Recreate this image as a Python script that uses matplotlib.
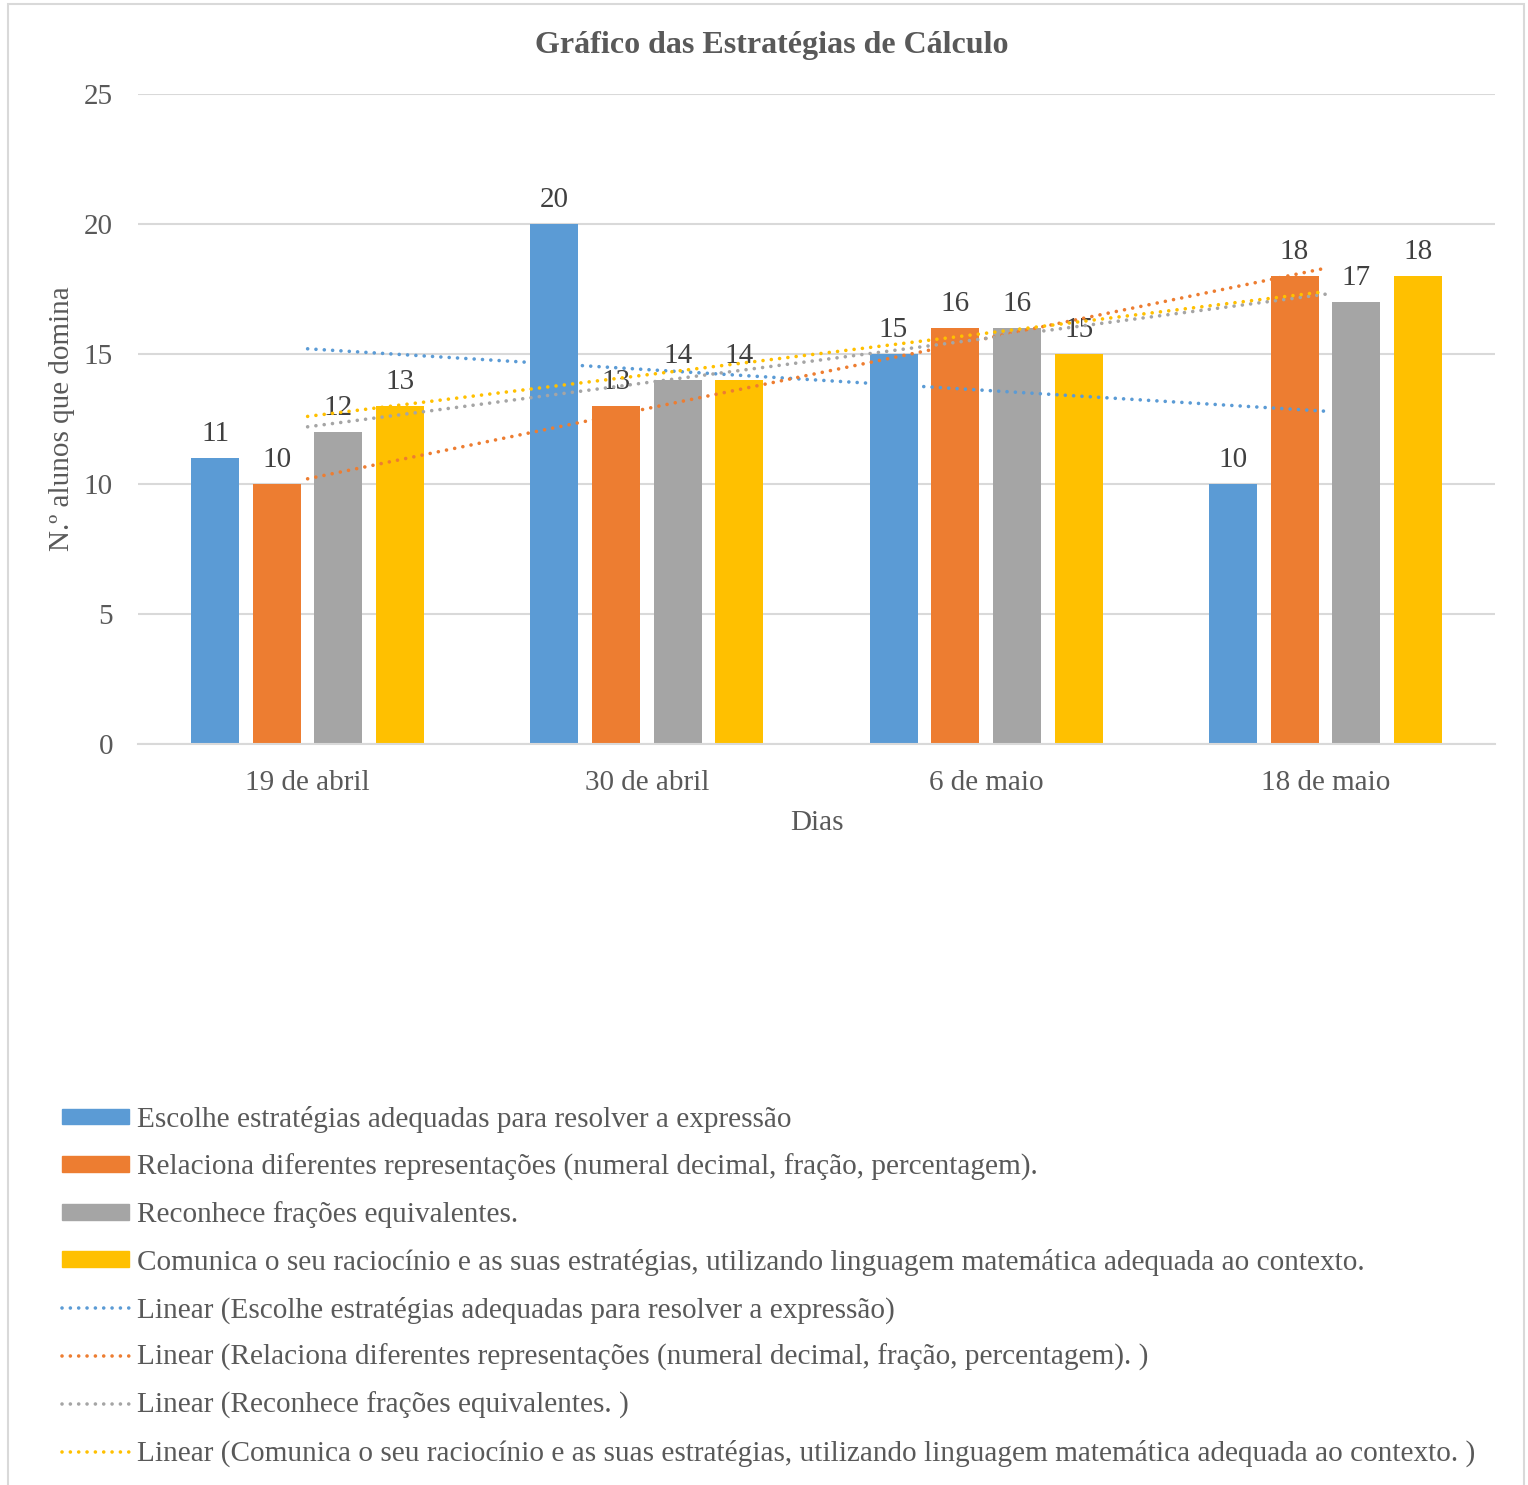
import numpy as np
import matplotlib
matplotlib.use("Agg")
import matplotlib.pyplot as plt
from matplotlib.patches import Rectangle
from matplotlib.lines import Line2D

plt.rcParams['font.family'] = ['Liberation Serif', 'DejaVu Serif']

categories = ["19 de abril", "30 de abril", "6 de maio", "18 de maio"]
series_names = [
    "Escolhe estratégias adequadas para resolver a expressão",
    "Relaciona diferentes representações (numeral decimal, fração, percentagem).",
    "Reconhece frações equivalentes.",
    "Comunica o seu raciocínio e as suas estratégias, utilizando linguagem matemática adequada ao contexto.",
]
trend_names = [
    "Linear (Escolhe estratégias adequadas para resolver a expressão)",
    "Linear (Relaciona diferentes representações (numeral decimal, fração, percentagem). )",
    "Linear (Reconhece frações equivalentes. )",
    "Linear (Comunica o seu raciocínio e as suas estratégias, utilizando linguagem matemática adequada ao contexto. )",
]
escolhe = [11, 20, 15, 10]
relaciona = [10, 13, 16, 18]
reconhece = [12, 14, 16, 17]
comunica = [13, 14, 15, 18]
values = [escolhe, relaciona, reconhece, comunica]
colors = ["#5B9BD5", "#ED7D31", "#A5A5A5", "#FFC000"]

TXT = "#595959"
W, H = 1528, 1485
fig = plt.figure(figsize=(W / 100, H / 100), dpi=100)
ax = fig.add_axes([138 / W, 1 - 744 / H, (1495 - 138) / W, (744 - 94) / H])

x = np.arange(len(categories))
bw = 0.1415
step = 0.182
TLW = 2.6
TDASH = (0, (0.01, 2.3))
bar_containers = []
for i, (vals, c) in enumerate(zip(values, colors)):
    bc = ax.bar(x + (i - 1.5) * step, vals, width=bw, color=c, zorder=2)
    bar_containers.append(bc)
    ax.bar_label(bc, padding=8, fontsize=21, color="#404040")

for vals, c in zip(values, colors):
    k, b = np.polyfit(x, vals, 1)
    ax.plot(x, k * x + b, color=c, lw=TLW, linestyle=TDASH,
            dash_capstyle='round', zorder=3)

ax.set_xlim(-0.5, 3.5)
ax.set_ylim(0, 25)
ax.set_yticks([0, 5, 10, 15, 20, 25])
ax.set_xticks(x)
ax.set_xticklabels(categories)
ax.yaxis.grid(True, color="#D9D9D9", lw=1.5, zorder=0)
ax.set_axisbelow(True)
for s in ["top", "right", "left"]:
    ax.spines[s].set_visible(False)
ax.spines["bottom"].set_color("#D9D9D9")
ax.spines["bottom"].set_linewidth(1.5)
ax.tick_params(axis='both', length=0, labelsize=21, labelcolor=TXT)
ax.tick_params(axis='y', pad=18)
ax.tick_params(axis='x', pad=19)

ax.set_ylabel("N.º alunos que domina", fontsize=21, color=TXT, va='center')
ax.yaxis.set_label_coords((62 - 138) / (1495 - 138), 0.5)
ax.set_xlabel("Dias", fontsize=21, color=TXT, va='center')
ax.xaxis.set_label_coords(0.5, (744 - 823) / (744 - 94))

fig.text(772 / W, 1 - 45 / H, "Gráfico das Estratégias de Cálculo", fontsize=23,
         fontweight='bold', color=TXT, ha='center', va='center')

patch_h = [Rectangle((0, 0), 1, 1, color=c) for c in colors]
line_h = [Line2D([], [], color=c, lw=TLW, linestyle=TDASH,
                 dash_capstyle='round') for c in colors]
leg = fig.legend(patch_h + line_h, series_names + trend_names,
                 loc='upper left', bbox_to_anchor=(62 / W, 1 - 1106 / H),
                 frameon=False, fontsize=21.1, handlelength=2.3, handletextpad=0.25,
                 handleheight=0.45, labelspacing=0.70, borderpad=0, borderaxespad=0)
for t in leg.get_texts():
    t.set_color(TXT)

fig.patches.append(Rectangle((8 / W, -0.01), (1524 - 8) / W, 1 - 4 / H + 0.01,
                             transform=fig.transFigure, fill=False,
                             edgecolor="#D9D9D9", lw=1.5))

fig.savefig("out.png", dpi=100, facecolor="white")
